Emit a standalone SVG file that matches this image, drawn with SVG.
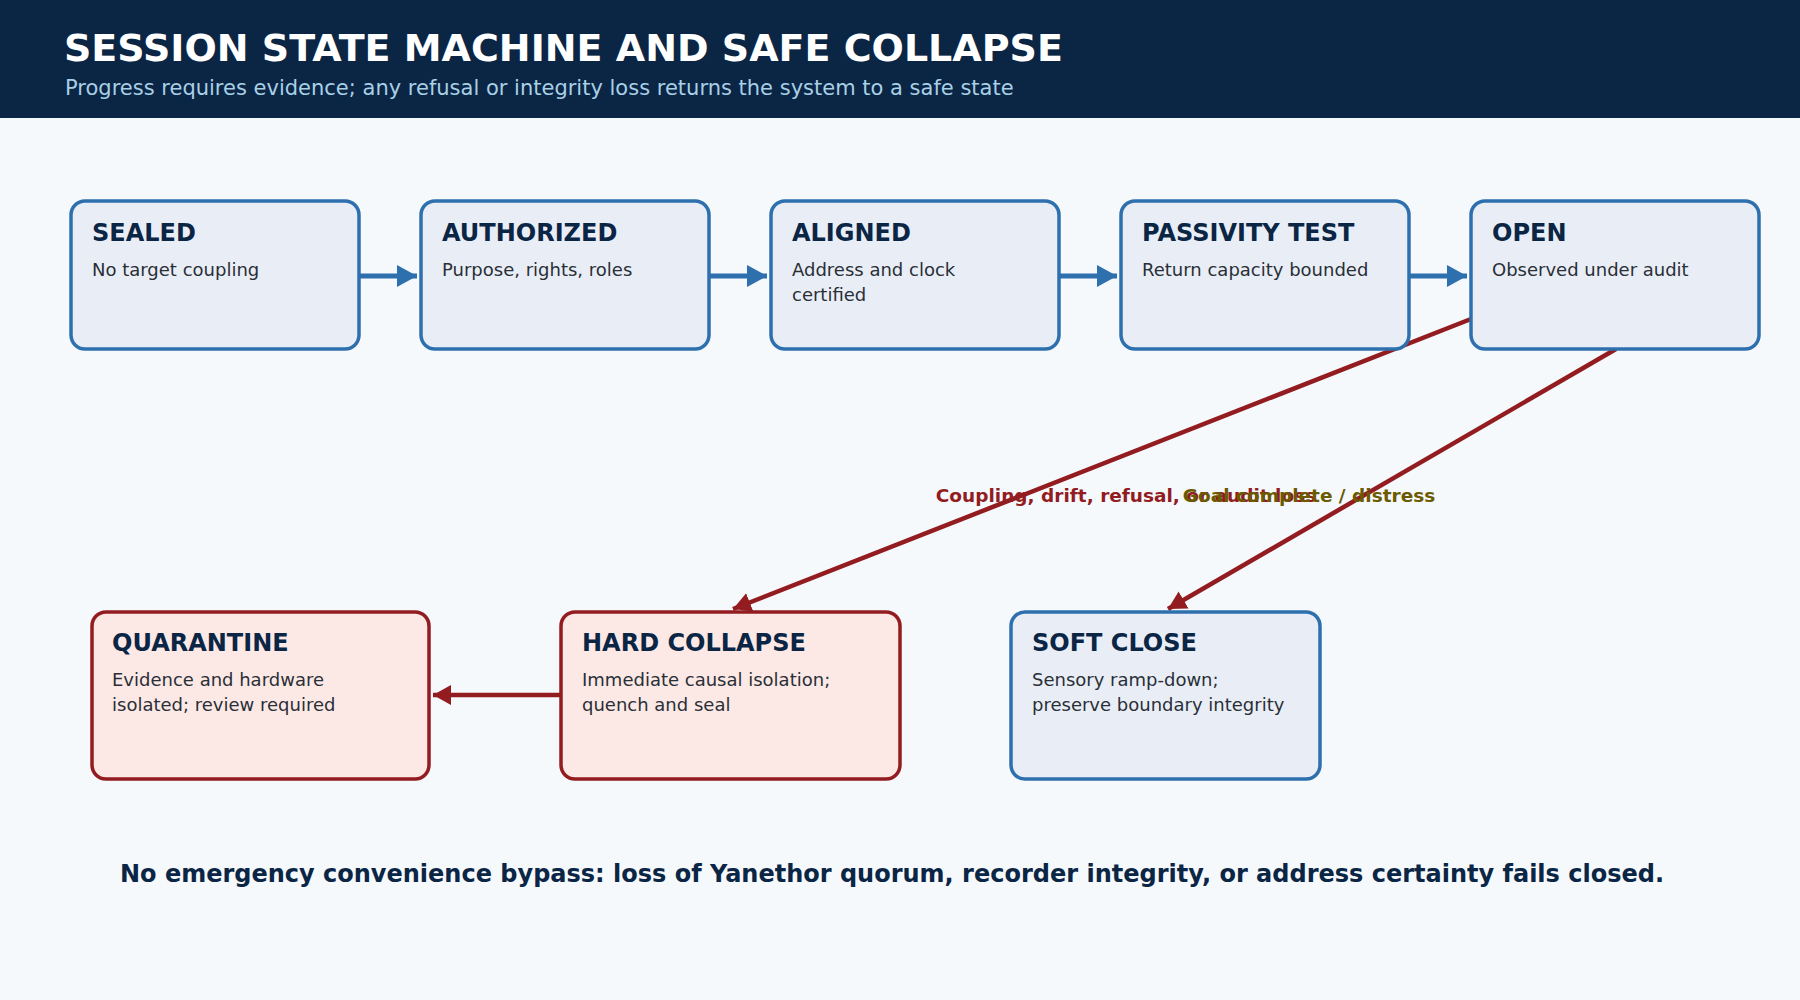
<svg xmlns="http://www.w3.org/2000/svg" width="1800" height="1000" viewBox="0 0 1800 1000">
<style>
text{font-family:"DejaVu Sans","Noto Sans",sans-serif}
.n rect{fill:#e9eef6;stroke:#2e6fad;stroke-width:3.5}
.r rect{fill:#fce9e6;stroke:#921c1f;stroke-width:3.5}
.t{font-size:24px;font-weight:bold;fill:#0b2545}
.d{font-size:18px;fill:#2a2f36}
.b{stroke:#2e6fad;stroke-width:5;fill:none}
.rd{stroke:#921c1f;stroke-width:4.5;fill:none}
</style>
<defs>
<marker id="ab" markerWidth="5" markerHeight="5" refX="4" refY="2.2" orient="auto" markerUnits="strokeWidth"><path d="M0,0L4,2.2L0,4.4z" fill="#2e6fad"/></marker>
<marker id="ar" markerWidth="5" markerHeight="5" refX="4" refY="2.2" orient="auto" markerUnits="strokeWidth"><path d="M0,0L4,2.2L0,4.4z" fill="#921c1f"/></marker>
</defs>
<rect width="1800" height="1000" fill="#f5f9fc"/>
<rect width="1800" height="118" fill="#0b2545"/>
<text x="64" y="61" font-size="38" font-weight="bold" fill="#fff">SESSION STATE MACHINE AND SAFE COLLAPSE</text>
<text x="65" y="95" font-size="21" fill="#a8d0e6">Progress requires evidence; any refusal or integrity loss returns the system to a safe state</text>
<g id="connectors">
<path class="b" d="M359 276H417" marker-end="url(#ab)"/>
<path class="b" d="M709 276H767" marker-end="url(#ab)"/>
<path class="b" d="M1059 276H1117" marker-end="url(#ab)"/>
<path class="b" d="M1409 276H1467" marker-end="url(#ab)"/>
<path class="rd" d="M1471 319L733 609" marker-end="url(#ar)"/>
<path class="rd" d="M1616 349L1168 609" marker-end="url(#ar)"/>
<path class="rd" d="M561 695H433" marker-end="url(#ar)"/>
<text x="1126" y="502" font-size="18.5" font-weight="bold" fill="#921c1f" text-anchor="middle">Coupling, drift, refusal, or audit loss</text>
<text x="1309" y="502" font-size="18.5" font-weight="bold" fill="#6b5a00" text-anchor="middle">Goal complete / distress</text>
</g>
<g id="sealed" class="n"><rect x="71" y="201" width="288" height="148" rx="14"/><text class="t" x="92" y="241">SEALED</text><text class="d" x="92" y="276">No target coupling</text></g>
<g id="authorized" class="n"><rect x="421" y="201" width="288" height="148" rx="14"/><text class="t" x="442" y="241">AUTHORIZED</text><text class="d" x="442" y="276">Purpose, rights, roles</text></g>
<g id="aligned" class="n"><rect x="771" y="201" width="288" height="148" rx="14"/><text class="t" x="792" y="241">ALIGNED</text><text class="d" x="792" y="276">Address and clock</text><text class="d" x="792" y="301">certified</text></g>
<g id="passivity" class="n"><rect x="1121" y="201" width="288" height="148" rx="14"/><text class="t" x="1142" y="241">PASSIVITY TEST</text><text class="d" x="1142" y="276">Return capacity bounded</text></g>
<g id="open" class="n"><rect x="1471" y="201" width="288" height="148" rx="14"/><text class="t" x="1492" y="241">OPEN</text><text class="d" x="1492" y="276">Observed under audit</text></g>
<g id="quarantine" class="r"><rect x="92" y="612" width="337" height="167" rx="14"/><text class="t" x="112" y="651">QUARANTINE</text><text class="d" x="112" y="686">Evidence and hardware</text><text class="d" x="112" y="711">isolated; review required</text></g>
<g id="hard" class="r"><rect x="561" y="612" width="339" height="167" rx="14"/><text class="t" x="582" y="651">HARD COLLAPSE</text><text class="d" x="582" y="686">Immediate causal isolation;</text><text class="d" x="582" y="711">quench and seal</text></g>
<g id="soft" class="n"><rect x="1011" y="612" width="309" height="167" rx="14"/><text class="t" x="1032" y="651">SOFT CLOSE</text><text class="d" x="1032" y="686">Sensory ramp-down;</text><text class="d" x="1032" y="711">preserve boundary integrity</text></g>
<text x="892" y="882" font-size="24" font-weight="bold" fill="#0b2545" text-anchor="middle">No emergency convenience bypass: loss of Yanethor quorum, recorder integrity, or address certainty fails closed.</text>
</svg>
